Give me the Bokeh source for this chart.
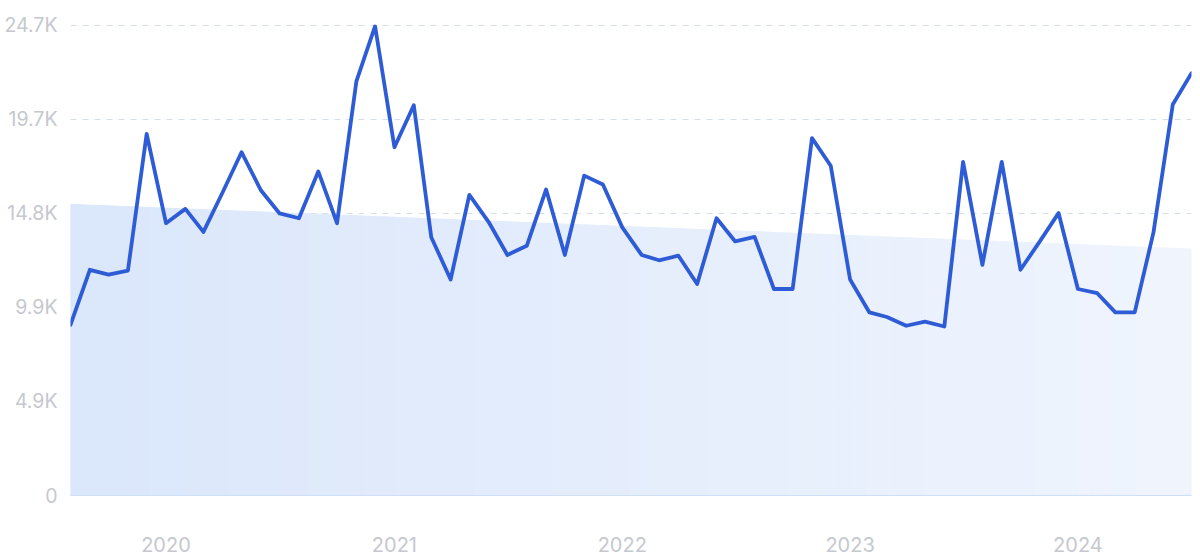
import numpy as np
import pandas as pd
from bokeh.plotting import figure
from bokeh.models import Range1d, FixedTicker, ColumnDataSource
from bokeh.embed import file_html
from bokeh.resources import INLINE

# ---- data ----
start_month = "2019-08-01"
values = [8970, 11860, 11610, 11820, 19000, 14310, 15060, 13850, 15950, 18040,
          16040, 14820, 14570, 17030, 14310, 21760, 24660, 18300, 20510, 13570,
          11350, 15800, 14370, 12640, 13120, 16080, 12640, 16810, 16340, 14090,
          12640, 12360, 12600, 11110, 14570, 13350, 13590, 10850, 10850, 18780,
          17330, 11350, 9620, 9380, 8920, 9140, 8880, 17530, 12120, 17530,
          11860, 13350, 14840, 10850, 10630, 9620, 9620, 13810, 20550, 22190]
trend_ends = [15300, 12950]
y_ticks = [0, 4940, 9880, 14820, 19760, 24700]
y_tick_labels = ["0", "4.9K", "9.9K", "14.8K", "19.7K", "24.7K"]
x_tick_years = [2020, 2021, 2022, 2023, 2024]

dates = pd.date_range(start_month, periods=len(values), freq="MS")

# ---- figure ----
p = figure(width=1200, height=557, x_axis_type="datetime",
           output_backend="svg", toolbar_location=None,
           min_border_left=70, min_border_right=9,
           min_border_top=24, min_border_bottom=62)
p.outline_line_color = None
p.background_fill_color = "white"
p.border_fill_color = "white"

p.x_range = Range1d(dates[0], dates[-1])
p.y_range = Range1d(0, y_ticks[-1] * 1.002)

# gradient trend area built from thin strips
n_strips = 100
t0 = dates[0].value / 1e6
t1 = dates[-1].value / 1e6
edges = np.linspace(t0, t1, n_strips + 1)
def trend_at(t):
    return trend_ends[0] + (trend_ends[1] - trend_ends[0]) * (t - t0) / (t1 - t0)
c_left = np.array([219, 231, 251])
c_right = np.array([240, 245, 254])
xs, ys, cols = [], [], []
for k in range(n_strips):
    a, b = edges[k], edges[k + 1]
    xs.append([a, b, b, a])
    ys.append([trend_at(a), trend_at(b), 0, 0])
    f = (k + 0.5) / n_strips
    c = (c_left * (1 - f) + c_right * f).astype(int)
    cols.append("#%02x%02x%02x" % tuple(c))
p.patches(xs, ys, fill_color=cols, line_color=cols, line_width=1)

# grid
p.xgrid.grid_line_color = None
p.ygrid.ticker = FixedTicker(ticks=y_ticks[1:])
p.ygrid.grid_line_color = "#d4deec"
p.ygrid.grid_line_dash = "6 6"
p.ygrid.grid_line_width = 1

# main line
src = ColumnDataSource(dict(x=dates, y=values))
p.line("x", "y", source=src, line_color="#2e5bd6", line_width=3.8,
       line_join="round", line_cap="round")

# axes
yax = p.yaxis[0]
yax.ticker = FixedTicker(ticks=y_ticks)
yax.major_label_overrides = {t: l for t, l in zip(y_ticks, y_tick_labels)}
yax.axis_line_color = None
yax.major_tick_line_color = None
yax.minor_tick_line_color = None
yax.major_label_text_color = "#c5c8cf"
yax.major_label_text_font = "Inter"
yax.major_label_text_font_size = "19.5px"
yax.major_label_standoff = 7

xax = p.xaxis[0]
year_ms = [pd.Timestamp(f"{y}-01-01").value / 1e6 for y in x_tick_years]
xax.ticker = FixedTicker(ticks=year_ms)
xax.major_label_overrides = {t: str(y) for t, y in zip(year_ms, x_tick_years)}
xax.axis_line_color = "#cfdff5"
xax.axis_line_width = 1
xax.major_tick_line_color = None
xax.minor_tick_line_color = None
xax.major_label_text_color = "#c5c8cf"
xax.major_label_text_font = "Inter"
xax.major_label_text_font_size = "20px"
xax.major_label_standoff = 35

open("out.html", "w").write(file_html(p, INLINE))
